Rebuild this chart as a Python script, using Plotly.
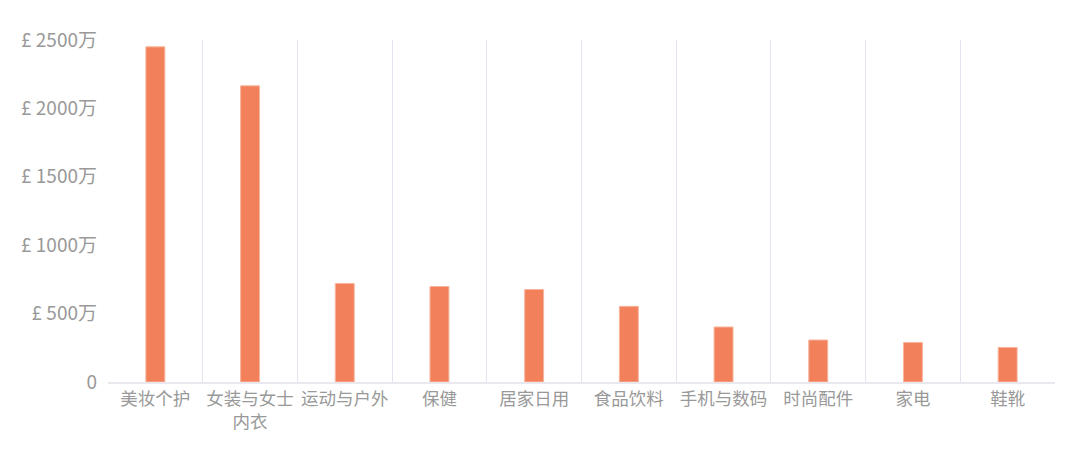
import plotly.graph_objects as go

categories = ["美妆个护", "女装与女士<br>内衣", "运动与户外", "保健", "居家日用",
              "食品饮料", "手机与数码", "时尚配件", "家电", "鞋靴"]
sales = [2450, 2165, 720, 698, 676, 553, 402, 307, 289, 252]  # 万英镑

tick_vals = [0, 500, 1000, 1500, 2000, 2500]
tick_text = ["0", "£ 500万", "£ 1000万", "£ 1500万", "£ 2000万", "£ 2500万"]

font = "Noto Sans CJK SC"
grey = "#999999"

fig = go.Figure()
fig.add_trace(go.Bar(
    x=categories, y=sales,
    width=0.2,
    marker=dict(color="#F2805A", line=dict(color="#F7B59E", width=1)),
))

fig.update_layout(
    width=1080, height=452,
    margin=dict(l=108, r=25, t=40, b=70),
    paper_bgcolor="white", plot_bgcolor="white",
    showlegend=False,
    font=dict(family=font, size=18, color=grey),
)
fig.update_xaxes(
    automargin=False, tickangle=0,
    tickson="boundaries", showgrid=True, gridcolor="#E4E4F0", gridwidth=1,
    showline=True, linecolor="#E8E8EE", linewidth=2,
    ticks="", tickfont=dict(size=17.5, color=grey),
)
fig.update_yaxes(
    automargin=False,
    range=[0, 2500], tickvals=tick_vals, ticktext=tick_text,
    showgrid=False, zeroline=False, showline=False, ticks="",
    tickfont=dict(size=19, color=grey), ticklabelstandoff=10,
)

# page body has a default 8px margin; drop it so the figure sits at 0,0
fig.write_html("out.html", config={"displayModeBar": False},
               post_script="document.body.style.margin='0';")
